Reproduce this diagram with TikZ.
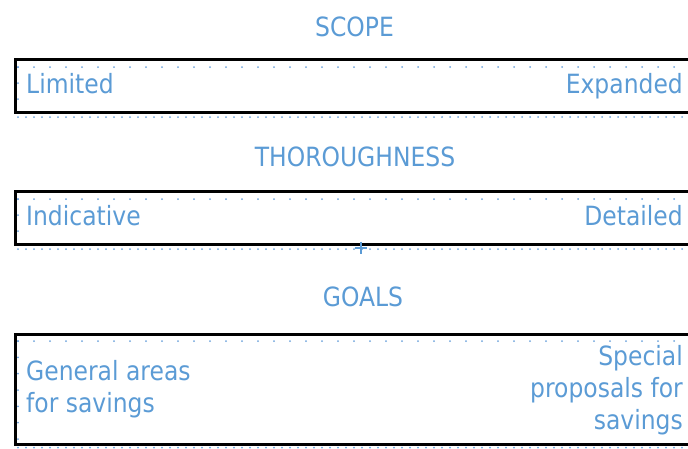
\documentclass[tikz,border=0pt]{standalone}
\usepackage{fontspec}
\setmainfont[FakeStretch=0.885]{DejaVu Sans}
\definecolor{txtblue}{HTML}{5B9BD5}
\definecolor{dotblue}{HTML}{6FA3DC}
\tikzset{
  lbl/.style={text=txtblue, font=\fontsize{26.5}{32}\selectfont, inner sep=0pt},
  ttl/.style={lbl, anchor=base},
  bandbox/.style={draw=black, line width=3pt, rectangle, inner sep=0pt, anchor=north west, minimum width=720pt},
  gdot/.style={fill=dotblue, draw=none}
}
\begin{document}
\begin{tikzpicture}[x=1pt,y=-1pt]
\useasboundingbox (0,0) rectangle (688,448);
\clip (0,0) rectangle (688,448);
% dotted guides
\foreach \ty/\ly in {67/117, 199/249, 341/447.5}{
  \foreach \xx in {18,34,...,690}{ \fill[gdot] (\xx,\ty) circle (1); }
  \foreach \xx in {18,26,...,690}{ \fill[gdot] (\xx,\ly) circle (1); }
}
\foreach \yy in {67,83,99}{ \fill[gdot] (18,\yy) circle (1); }
\foreach \yy in {199,215,231}{ \fill[gdot] (18,\yy) circle (1); }
\foreach \yy in {341,357.3,373.6,390,406.3,422.6,439}{ \fill[gdot] (18,\yy) circle (1); }
% boxes
\node[bandbox, minimum height=53pt] (scopebox) at (14,58) {};
\node[bandbox, minimum height=53pt] (thorbox) at (14,190) {};
\node[bandbox, minimum height=110pt] (goalbox) at (14,333) {};
% titles
\node[ttl] (scope) at (354.5,36.5) {SCOPE};
\node[ttl] (thor) at (355,166.5) {THOROUGHNESS};
\node[ttl] (goals) at (363,306.5) {GOALS};
% labels
\node[lbl, anchor=base west] (limited) at (26,93) {Limited};
\node[lbl, anchor=base east] (expanded) at (683,93) {Expanded};
\node[lbl, anchor=base west] (indicative) at (26,225) {Indicative};
\node[lbl, anchor=base east] (detailed) at (683,225) {Detailed};
\node[lbl, anchor=base west] (gen1) at (26,380) {General areas};
\node[lbl, anchor=base west] (gen2) at (26,412) {for savings};
\node[lbl, anchor=base east] (sp1) at (683,365) {Special};
\node[lbl, anchor=base east] (sp2) at (683,397) {proposals for};
\node[lbl, anchor=base east] (sp3) at (683,429) {savings};
% plus mark
\coordinate (plus) at (360.5,247.5);
\draw[txtblue, line width=2pt] ([xshift=-6pt]plus) -- ([xshift=6pt]plus);
\draw[txtblue, line width=2pt] ([yshift=6pt]plus) -- ([yshift=-6pt]plus);
\end{tikzpicture}
\end{document}
